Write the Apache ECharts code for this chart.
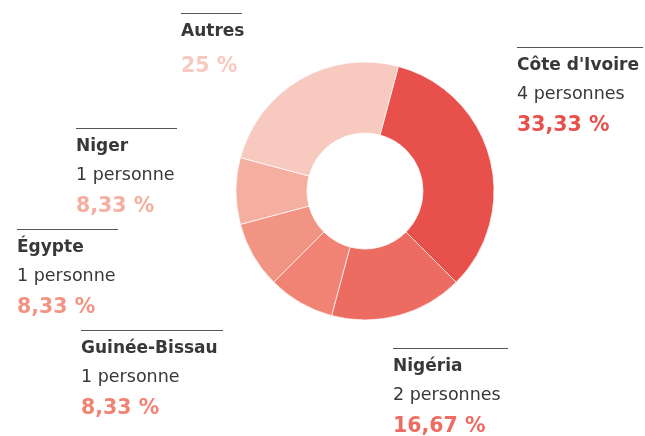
<!DOCTYPE html>
<html><head><meta charset="utf-8">
<script src="https://cdn.jsdelivr.net/npm/echarts@6/dist/echarts.min.js"></script>
<style>html,body{margin:0;padding:0;background:#fff}#c{width:645px;height:436px}</style>
</head><body><div id="c"></div>
<script>
// Data
const countries = ["Côte d'Ivoire", "Nigéria", "Guinée-Bissau", "Égypte", "Niger", "Autres"];
const persons = [4, 2, 1, 1, 1, 3];
const personLabels = ["4 personnes", "2 personnes", "1 personne", "1 personne", "1 personne", ""];
const pctLabels = ["33,33 %", "16,67 %", "8,33 %", "8,33 %", "8,33 %", "25 %"];
const colors = ["#E8504B", "#ED6C61", "#F08373", "#F29484", "#F5AFA1", "#F8C9BF"];

// Layout (label block anchor: rule start x, rule y, rule width)
const blockX = [517, 393, 81, 17, 76, 181];
const blockY = [47, 348, 330, 229, 128, 13];
const ruleW = [126, 115, 142, 101, 101, 61];

const chart = echarts.init(document.getElementById('c'), null, {renderer: 'canvas'});
const FONT = '"DejaVu Sans", sans-serif';
const graphics = [];
countries.forEach((name, i) => {
  const x = blockX[i], y = blockY[i];
  graphics.push({type: 'line', shape: {x1: x, y1: y + 0.5, x2: x + ruleW[i], y2: y + 0.5},
    style: {stroke: '#555', lineWidth: 1}});
  graphics.push({type: 'text', x: x, y: y + 19, style: {text: name, fill: '#383838',
    font: 'bold 17px ' + FONT, textAlign: 'left', verticalAlign: 'middle'}});
  if (personLabels[i]) {
    graphics.push({type: 'text', x: x, y: y + 47.5, style: {text: personLabels[i], fill: '#383838',
      font: '17.5px ' + FONT, textAlign: 'left', verticalAlign: 'middle'}});
  }
  graphics.push({type: 'text', x: x, y: y + (personLabels[i] ? 78.5 : 53.5), style: {text: pctLabels[i], fill: colors[i],
    font: 'bold 20.5px ' + FONT, textAlign: 'left', verticalAlign: 'middle'}});
});

chart.setOption({
  animation: false,
  backgroundColor: '#fff',
  color: colors,
  series: [{
    type: 'pie',
    center: [365, 191],
    radius: [58, 129],
    startAngle: 75,
    clockwise: true,
    label: {show: false},
    labelLine: {show: false},
    emphasis: {disabled: true},
    itemStyle: {borderColor: '#fff', borderWidth: 0.7},
    data: countries.map((n, i) => ({name: n, value: persons[i]}))
  }],
  graphic: graphics
});
</script></body></html>
